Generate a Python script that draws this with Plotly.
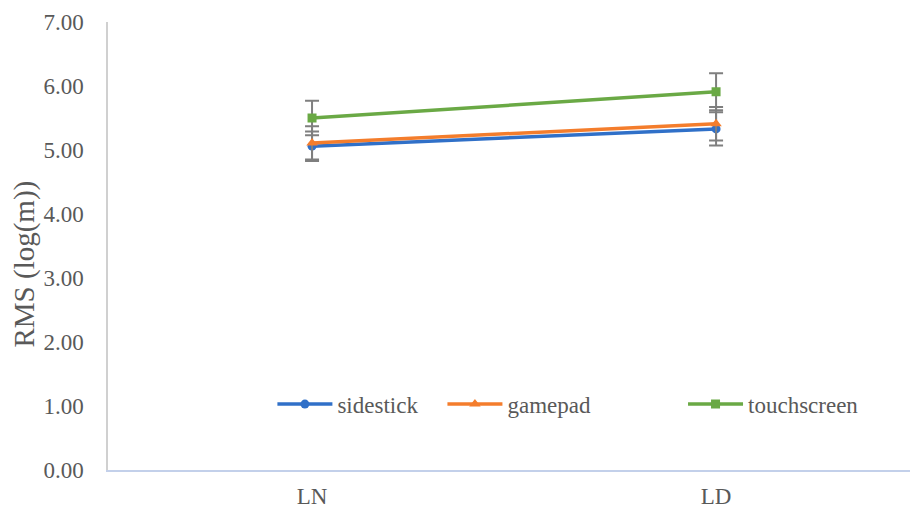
import plotly.graph_objects as go

# Conditions on the category axis
conditions = ["LN", "LD"]

# Mean RMS per control device
sidestick = [5.06, 5.33]
gamepad = [5.11, 5.41]
touchscreen = [5.50, 5.91]

# Error bar half-lengths
sidestick_err = [0.23, 0.26]
gamepad_err = [0.26, 0.26]
touchscreen_err = [0.27, 0.29]

y_ticks = [0, 1, 2, 3, 4, 5, 6, 7]

series = [
    ("sidestick", sidestick, sidestick_err, "#3070C8", "circle", 9, "legend"),
    ("gamepad", gamepad, gamepad_err, "#F47D2C", "triangle-up", 10, "legend2"),
    ("touchscreen", touchscreen, touchscreen_err, "#6AA945", "square", 9, "legend3"),
]

font_family = "Liberation Serif"
text_color = "#595959"

fig = go.Figure()
for name, vals, errs, color, symbol, msize, leg in series:
    fig.add_trace(go.Scatter(
        x=conditions,
        y=vals,
        name=name,
        mode="lines+markers",
        line=dict(color=color, width=3.5),
        marker=dict(color=color, symbol=symbol, size=msize),
        error_y=dict(type="data", array=errs, visible=True,
                     color="#7F7F7F", thickness=2, width=7),
        legend=leg,
    ))

legend_common = dict(
    orientation="h",
    yanchor="middle",
    y=0.147,
    xanchor="left",
    bgcolor="rgba(0,0,0,0)",
    font=dict(family=font_family, size=23, color=text_color),
    itemwidth=55,
)

# Y-axis title drawn as a rotated annotation so it can sit slightly below centre
fig.add_annotation(
    text="RMS (log(m))",
    textangle=-90,
    xref="paper", yref="paper",
    x=-0.104, y=0.46,
    xanchor="center", yanchor="middle",
    showarrow=False,
    font=dict(family=font_family, size=29, color=text_color),
)

fig.update_layout(
    width=910,
    height=510,
    margin=dict(l=108, r=0, t=22, b=40),
    paper_bgcolor="white",
    plot_bgcolor="white",
    font=dict(family=font_family, color=text_color),
    showlegend=True,
    legend=dict(x=0.205, **legend_common),
    legend2=dict(x=0.417, **legend_common),
    legend3=dict(x=0.717, **legend_common),
    xaxis=dict(
        type="category",
        range=[-0.505, 1.48],
        showgrid=False,
        showline=True,
        linecolor="#C3D0EA",
        linewidth=2,
        ticks="",
        ticklabelstandoff=4,
        tickfont=dict(family=font_family, size=23, color=text_color),
        zeroline=False,
    ),
    yaxis=dict(
        range=[0, 7],
        tickvals=y_ticks,
        tickformat=".2f",
        showgrid=False,
        showline=True,
        linecolor="#D0D0D0",
        linewidth=1.5,
        ticks="",
        ticklabelstandoff=18,
        tickfont=dict(family=font_family, size=23, color=text_color),
        zeroline=False,
    ),
)

fig.write_html("out.html")
